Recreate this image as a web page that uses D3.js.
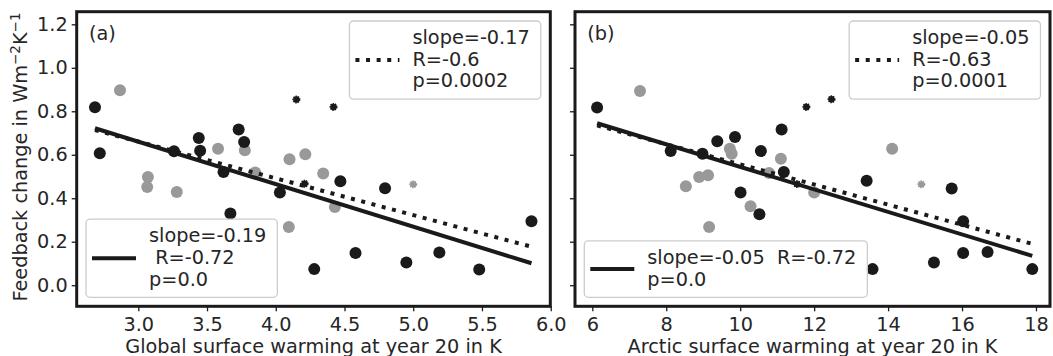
<!DOCTYPE html>
<html>
<head>
<meta charset="utf-8">
<script src="https://cdn.jsdelivr.net/npm/d3@7"></script>
<style>
  body { margin: 0; background: #fff; }
  svg text { font-family: "DejaVu Sans", sans-serif; fill: #262626; }
</style>
</head>
<body>
<svg id="chart" width="1053" height="356"></svg>
<script>
// feedback change vs. warming, one [x, y] pair per model
const globalBlack = [[2.685,0.818],[2.72,0.607],[3.26,0.616],[3.44,0.677],[3.45,0.618],[3.73,0.716],
  [3.77,0.659],[3.62,0.521],[3.67,0.330],[4.03,0.426],[4.47,0.478],[4.795,0.446],[5.86,0.294],
  [4.58,0.148],[4.28,0.074],[4.95,0.104],[5.19,0.150],[5.48,0.072]];
const globalGrey = [[2.867,0.897],[3.58,0.628],[3.775,0.621],[4.10,0.579],[4.215,0.602],[4.345,0.514],
  [3.07,0.498],[3.065,0.452],[3.28,0.429],[4.095,0.268],[4.43,0.360],[3.85,0.518]];
const globalStarBlack = [[4.15,0.854],[4.42,0.820],[4.21,0.467]];
const globalStarGrey = [[5.0,0.464]];

const arcticBlack = [[6.13,0.817],[8.12,0.617],[8.98,0.605],[9.38,0.662],[9.86,0.682],[10.56,0.617],
  [11.12,0.716],[11.18,0.521],[10.01,0.426],[10.52,0.326],[13.42,0.480],[15.72,0.445],[16.03,0.294],
  [16.03,0.148],[16.69,0.153],[15.24,0.104],[13.58,0.074],[17.9,0.074]];
const arcticGrey = [[7.29,0.893],[9.72,0.628],[9.77,0.605],[11.10,0.582],[14.11,0.628],[8.53,0.455],
  [8.89,0.498],[9.13,0.506],[9.16,0.268],[10.28,0.363],[10.78,0.516],[12.0,0.426]];
const arcticStarBlack = [[11.79,0.820],[12.47,0.855],[11.54,0.465]];
const arcticStarGrey = [[14.9,0.464]];

// regression lines (end points)
const globalFitSolid = [[2.685,0.722],[5.86,0.101]];
const globalFitDotted = [[2.685,0.714],[5.86,0.177]];
const arcticFitSolid = [[6.13,0.745],[17.9,0.135]];
const arcticFitDotted = [[6.13,0.735],[17.9,0.190]];

const globalLegSolid = ["slope=-0.19", " R=-0.72", "p=0.0"];
const globalLegDotted = ["slope=-0.17", "R=-0.6", "p=0.0002"];
const arcticLegSolid = ["slope=-0.05  R=-0.72", "p=0.0"];
const arcticLegDotted = ["slope=-0.05", "R=-0.63", "p=0.0001"];

const yTicks = [0, 0.2, 0.4, 0.6, 0.8, 1.0, 1.2];
const globalTicks = [3.0, 3.5, 4.0, 4.5, 5.0, 5.5, 6.0];
const arcticTicks = [6, 8, 10, 12, 14, 16, 18];

const ink = '#1a1a1a', grey = '#999';
const fs = 19.3;
const svg = d3.select('#chart');
const plotTop = 11.7, plotBottom = 306.3;
const y = d3.scaleLinear().domain([-0.097, 1.258]).range([plotBottom, plotTop]);

const panels = [
  { tag: '(a)', left: 76.7, right: 550.3, domain: [2.552, 5.997], ticks: globalTicks, fmt: d3.format('.1f'),
    label: 'Global surface warming at year 20 in K', black: globalBlack, grey: globalGrey,
    starBlack: globalStarBlack, starGrey: globalStarGrey, solid: globalFitSolid, dotted: globalFitDotted,
    legSolid: globalLegSolid, legDotted: globalLegDotted, yLabels: true },
  { tag: '(b)', left: 575, right: 1050, domain: [5.532, 18.379], ticks: arcticTicks, fmt: d3.format('d'),
    label: 'Arctic surface warming at year 20 in K', black: arcticBlack, grey: arcticGrey,
    starBlack: arcticStarBlack, starGrey: arcticStarGrey, solid: arcticFitSolid, dotted: arcticFitDotted,
    legSolid: arcticLegSolid, legDotted: arcticLegDotted, yLabels: false }
];

function legend(p, lines, dotted, corner) {
  const g = svg.append('g');
  const box = g.append('rect').attr('rx', 4)
    .attr('fill', '#fff').attr('fill-opacity', 0.8)
    .attr('stroke', '#cccccc').attr('stroke-width', 1.3);
  const txt = g.append('text').attr('font-size', fs).style('white-space', 'pre');
  lines.forEach((s, i) => txt.append('tspan').attr('x', 63).attr('y', 23 + i * 21.7).text(s));
  const bb = txt.node().getBBox();
  const w = bb.x + bb.width + 11;
  const h = 13 + lines.length * 21.7;
  box.attr('width', w).attr('height', h);
  g.append('line').attr('x1', 6).attr('x2', 50).attr('y1', h / 2).attr('y2', h / 2)
    .attr('stroke', ink).attr('stroke-width', 4)
    .attr('stroke-dasharray', dotted ? '4 6.6' : null);
  if (corner === 'ur') g.attr('transform', `translate(${p.right - 9.5 - w},${plotTop + 9.3})`);
  else g.attr('transform', `translate(${p.left + 9.3},${plotBottom - 9 - h})`);
}

panels.forEach(p => {
  const x = d3.scaleLinear().domain(p.domain).range([p.left, p.right]);
  const g = svg.append('g');

  const dots = (data, r, color) => g.append('g').selectAll('circle').data(data).join('circle')
    .attr('cx', d => x(d[0])).attr('cy', d => y(d[1])).attr('r', r).attr('fill', color);
  dots(p.grey, 6, grey);
  dots(p.black, 6, ink);
  dots(p.starBlack, 3.2, ink).attr('stroke', ink).attr('stroke-width', 1.6).attr('stroke-dasharray', '1.4 0.9');
  dots(p.starGrey, 3.2, grey).attr('stroke', grey).attr('stroke-width', 1.6).attr('stroke-dasharray', '1.4 0.9');

  const line = d3.line().x(d => x(d[0])).y(d => y(d[1]));
  g.append('path').attr('d', line(p.solid)).attr('fill', 'none').attr('stroke', ink).attr('stroke-width', 4);
  g.append('path').attr('d', line(p.dotted)).attr('fill', 'none').attr('stroke', ink).attr('stroke-width', 4)
    .attr('stroke-dasharray', '4 6.6');

  // axes
  const ax = g.append('g').attr('transform', `translate(0,${plotBottom})`)
    .call(d3.axisBottom(x).tickValues(p.ticks).tickFormat(p.fmt).tickSize(5).tickPadding(6.5));
  const ay = g.append('g').attr('transform', `translate(${p.left},0)`)
    .call(d3.axisLeft(y).tickValues(yTicks).tickFormat(p.yLabels ? d3.format('.1f') : () => '')
      .tickSize(5).tickPadding(4));
  [ax, ay].forEach(a => {
    a.select('.domain').remove();
    a.selectAll('line').attr('stroke', ink).attr('stroke-width', 1.3);
    a.selectAll('text').attr('font-size', fs).attr('font-family', 'DejaVu Sans').attr('fill', '#262626');
  });

  g.append('rect').attr('x', p.left).attr('y', plotTop)
    .attr('width', p.right - p.left).attr('height', plotBottom - plotTop)
    .attr('fill', 'none').attr('stroke', ink).attr('stroke-width', 3);

  g.append('text').attr('x', p.left + 12.3).attr('y', 40).attr('font-size', fs).text(p.tag);
  g.append('text').attr('x', (p.left + p.right) / 2).attr('y', 353)
    .attr('text-anchor', 'middle').attr('font-size', fs).text(p.label);

  legend(p, p.legDotted, true, 'ur');
  legend(p, p.legSolid, false, 'll');
});

// y axis title with superscripts
const yt = svg.append('text').attr('transform', 'translate(27,157) rotate(-90)')
  .attr('text-anchor', 'middle').attr('font-size', fs);
yt.append('tspan').text('Feedback change in Wm');
yt.append('tspan').attr('font-size', 13.5).attr('dy', -7.5).text('\u22122');
yt.append('tspan').attr('dy', 7.5).text('K');
yt.append('tspan').attr('font-size', 13.5).attr('dy', -7.5).text('\u22121');
</script>
</body>
</html>
